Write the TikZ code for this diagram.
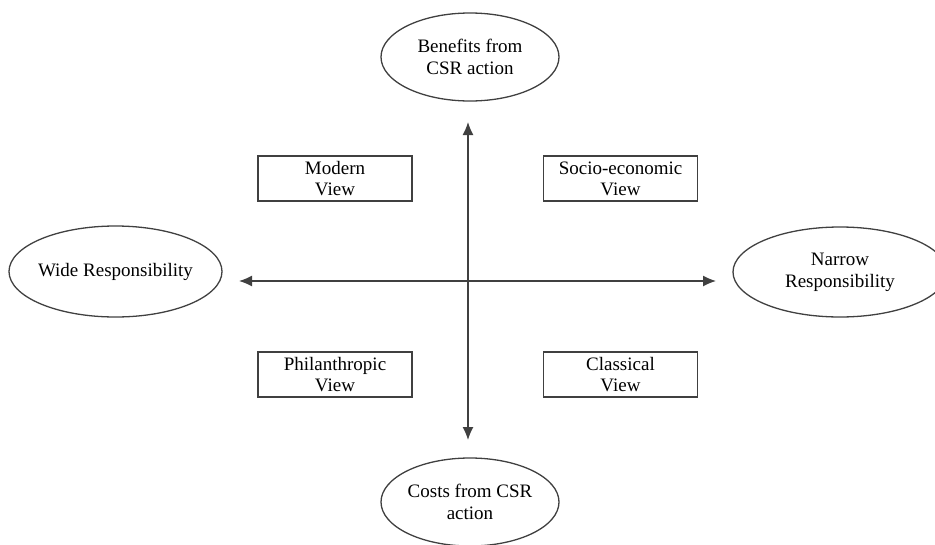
\documentclass[tikz,border=0pt]{standalone}
\usepackage{fontspec}
\setmainfont{Liberation Serif}
\usetikzlibrary{shapes.geometric,arrows.meta}
\tikzset{
  oval/.style={ellipse, draw=black!75, line width=1.3pt, inner sep=0pt, align=center, font=\fontsize{19}{22}\selectfont},
  viewbox/.style={rectangle, draw=black!75, line width=1.3pt, inner sep=0pt, minimum width=154pt, minimum height=45pt, align=center, font=\fontsize{19}{21}\selectfont},
  axis/.style={black!75, line width=1.3pt, {Latex[length=13pt,width=11pt]}-{Latex[length=13pt,width=11pt]}}
}
\begin{document}
\begin{tikzpicture}[x=1pt,y=-1pt]
\useasboundingbox (0,0) rectangle (935,544);
\node[oval, minimum width=178pt, minimum height=88pt] (benefits) at (470,57) {Benefits from\\CSR action};
\node[oval, minimum width=178pt, minimum height=88pt] (costs) at (470,502) {Costs from CSR\\action};
\node[oval, minimum width=213pt, minimum height=91pt] (wide) at (115.5,271.5) {\makebox[120pt]{Wide Responsibility}};
\node[oval, minimum width=214pt, minimum height=90pt] (narrow) at (840,272) {Narrow\\Responsibility};
\node[viewbox] (modern) at (335,178.5) {Modern\\View};
\node[viewbox] (socio) at (620.5,178.5) {Socio-economic\\View};
\node[viewbox] (phil) at (335,374.5) {Philanthropic\\View};
\node[viewbox] (classical) at (620.5,374.5) {Classical\\View};
\coordinate (vtop) at (468,122);
\coordinate (vbot) at (468,440);
\coordinate (hleft) at (239,281);
\coordinate (hright) at (716,281);
\draw[axis] (vtop) -- (vbot);
\draw[axis] (hleft) -- (hright);
\end{tikzpicture}
\end{document}
